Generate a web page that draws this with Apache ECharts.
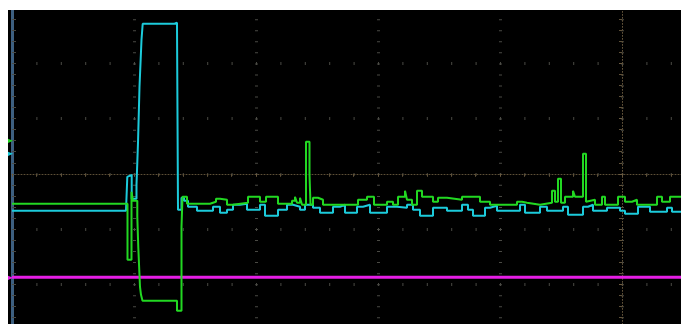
<!DOCTYPE html>
<html><head><meta charset="utf-8">
<script src="https://cdn.jsdelivr.net/npm/echarts@6/dist/echarts.min.js"></script>
<style>
html,body{margin:0;padding:0;background:#fff;width:681px;height:324px;overflow:hidden}
#w{position:absolute;left:8px;top:10px;width:673px;height:314px;background:#000;overflow:hidden}
#c{position:absolute;left:0;top:-57px;width:675px;height:387px}
</style></head><body><div id="w"><div id="c"></div></div>
<script>
// time (samples, 0 = screen centre) and level (0 = centre line)
const greenT = [-610,-494.5,-490.5,-489,-484.7,-483.7,-482,-481,-479.5,-449,-447,-445,-440.5,-439.5,-435,-412,-406,-402,-395,-389,-374,-362,-356,-344,-330,-327,-325,-322,-320,-316,-312.5,-311.5,-309,-304,-299,-264,-255,-248,-235,-229,-224,-217,-215,-210,-205,-200,-189,-184,-175,-160,-142,-132,-105,-100,-95,-82,-70,-67,-64,-61,-57,-49,-47,-39,-36,-34,-27,-20,-17,-4,3,10,15,35,40,48,59];
const greenV = [-30,-86,-18,-27,-43,-74,-113,-121,-127,-129,-127,-137,-53,-23,-30,-28,-25,-26,-31,-29,-23,-28,-23,-30,-27,-23,-29,-24,-31,32,-1,-31,-24,-26,-31,-26,-23,-31,-28,-31,-23,-17,-26,-31,-17,-23,-28,-24,-26,-23,-28,-31,-28,-29,-31,-29,-17,-28,-5,-29,-23,-17,-23,20,-28,-26,-31,-23,-31,-23,-28,-26,-31,-23,-28,-23,-23];
const cyanT = [-610,-496,-494.7,-493.3,-490.3,-485.5,-484,-482.5,-480.5,-479.3,-447.5,-446,-445,-444,-440.5,-438,-434,-425,-409,-402,-395,-389,-382,-375,-362,-357,-344,-335,-329,-322,-317,-309,-302,-289,-282,-277,-265,-259,-252,-235,-225,-215,-209,-202,-189,-182,-175,-160,-154,-149,-137,-132,-125,-102,-97,-82,-75,-59,-54,-39,-34,-29,-15,-2,3,16,28,45,50,59];
const cyanV = [-37,-38,-3,-1,-25,-11,31,87,134,150,149,151,148,-36,-24,-27,-33,-37,-33,-39,-36,-31,-30,-36,-31,-42,-36,-31,-33,-36,-31,-34,-39,-33,-31,-39,-33,-31,-39,-33,-34,-31,-36,-42,-34,-34,-37,-31,-36,-42,-34,-32,-37,-31,-39,-33,-37,-33,-41,-33,-31,-37,-34,-37,-40,-33,-38,-34,-38,-38];
const magentaT = [-610, 61];
const magentaV = [-103.5, -103.5];
// channel reference markers (level)
const markerGreen = 33, markerCyan = 20, markerMagenta = -104;

const zip = (t, v) => t.map((x, i) => [x, v[i]]);
const chart = echarts.init(document.getElementById('c'), null, {renderer: 'canvas'});
const dotCol = '#4a4a44';
const marker = (lvl, col) => ({
  symbol: 'triangle', symbolSize: [5, 6], symbolRotate: -90, symbolOffset: [-2, 0],
  itemStyle: {color: col}, label: {show: false}, silent: true,
  data: [{coord: [-610, lvl]}]
});
chart.setOption({
  animation: false,
  backgroundColor: '#000',
  grid: {left: 4, right: 0, top: 0, bottom: 0.6, containLabel: false},
  xAxis: {
    type: 'value', min: -610, max: 61, interval: 122,
    axisLine: {onZero: true, lineStyle: {color: '#5e5038', type: [1, 2], width: 1}},
    axisTick: {show: true, length: 3, lineStyle: {color: '#6a5a40'}},
    minorTick: {show: true, splitNumber: 5, length: 3, lineStyle: {color: '#5e5038'}},
    axisLabel: {show: false},
    splitLine: {show: true, lineStyle: {color: dotCol, width: 3, type: [1, 10.04]}}
  },
  yAxis: [{
    type: 'value', min: -165.6, max: 220.8, interval: 55.2,
    axisLine: {onZero: true, lineStyle: {color: '#5e5038', type: [1, 2], width: 1}},
    axisTick: {show: true, length: 3, lineStyle: {color: '#6a5a40'}},
    minorTick: {show: true, splitNumber: 5, length: 3, lineStyle: {color: '#5e5038'}},
    axisLabel: {show: false},
    splitLine: {show: true, lineStyle: {color: dotCol, width: 3, type: [1, 23.4]}}
  }, {
    type: 'value', min: -165.6, max: 220.8, interval: 55.2, position: 'left',
    axisLine: {show: true, onZero: false, lineStyle: {color: '#3d5f80', width: 3}},
    axisTick: {show: true, inside: true, length: 4, lineStyle: {color: '#4a4a44'}},
    minorTick: {show: true, splitNumber: 5, length: 4, lineStyle: {color: '#4a4a44'}},
    axisLabel: {show: false}, splitLine: {show: false}
  }],
  series: [
    {type: 'line', name: 'CH3', data: zip(magentaT, magentaV), symbol: 'none',
     lineStyle: {color: '#e61ee6', width: 3}, markPoint: marker(markerMagenta, '#e61ee6'), z: 2},
    {type: 'line', name: 'CH1', data: zip(cyanT, cyanV), step: 'end', symbol: 'none',
     lineStyle: {color: '#1ccbdb', width: 2}, markPoint: marker(markerCyan, '#1ccbdb'), z: 3},
    {type: 'line', name: 'CH2', data: zip(greenT, greenV), step: 'end', symbol: 'none',
     lineStyle: {color: '#22d822', width: 2}, markPoint: marker(markerGreen, '#22d822'), z: 4}
  ]
});
</script></body></html>
